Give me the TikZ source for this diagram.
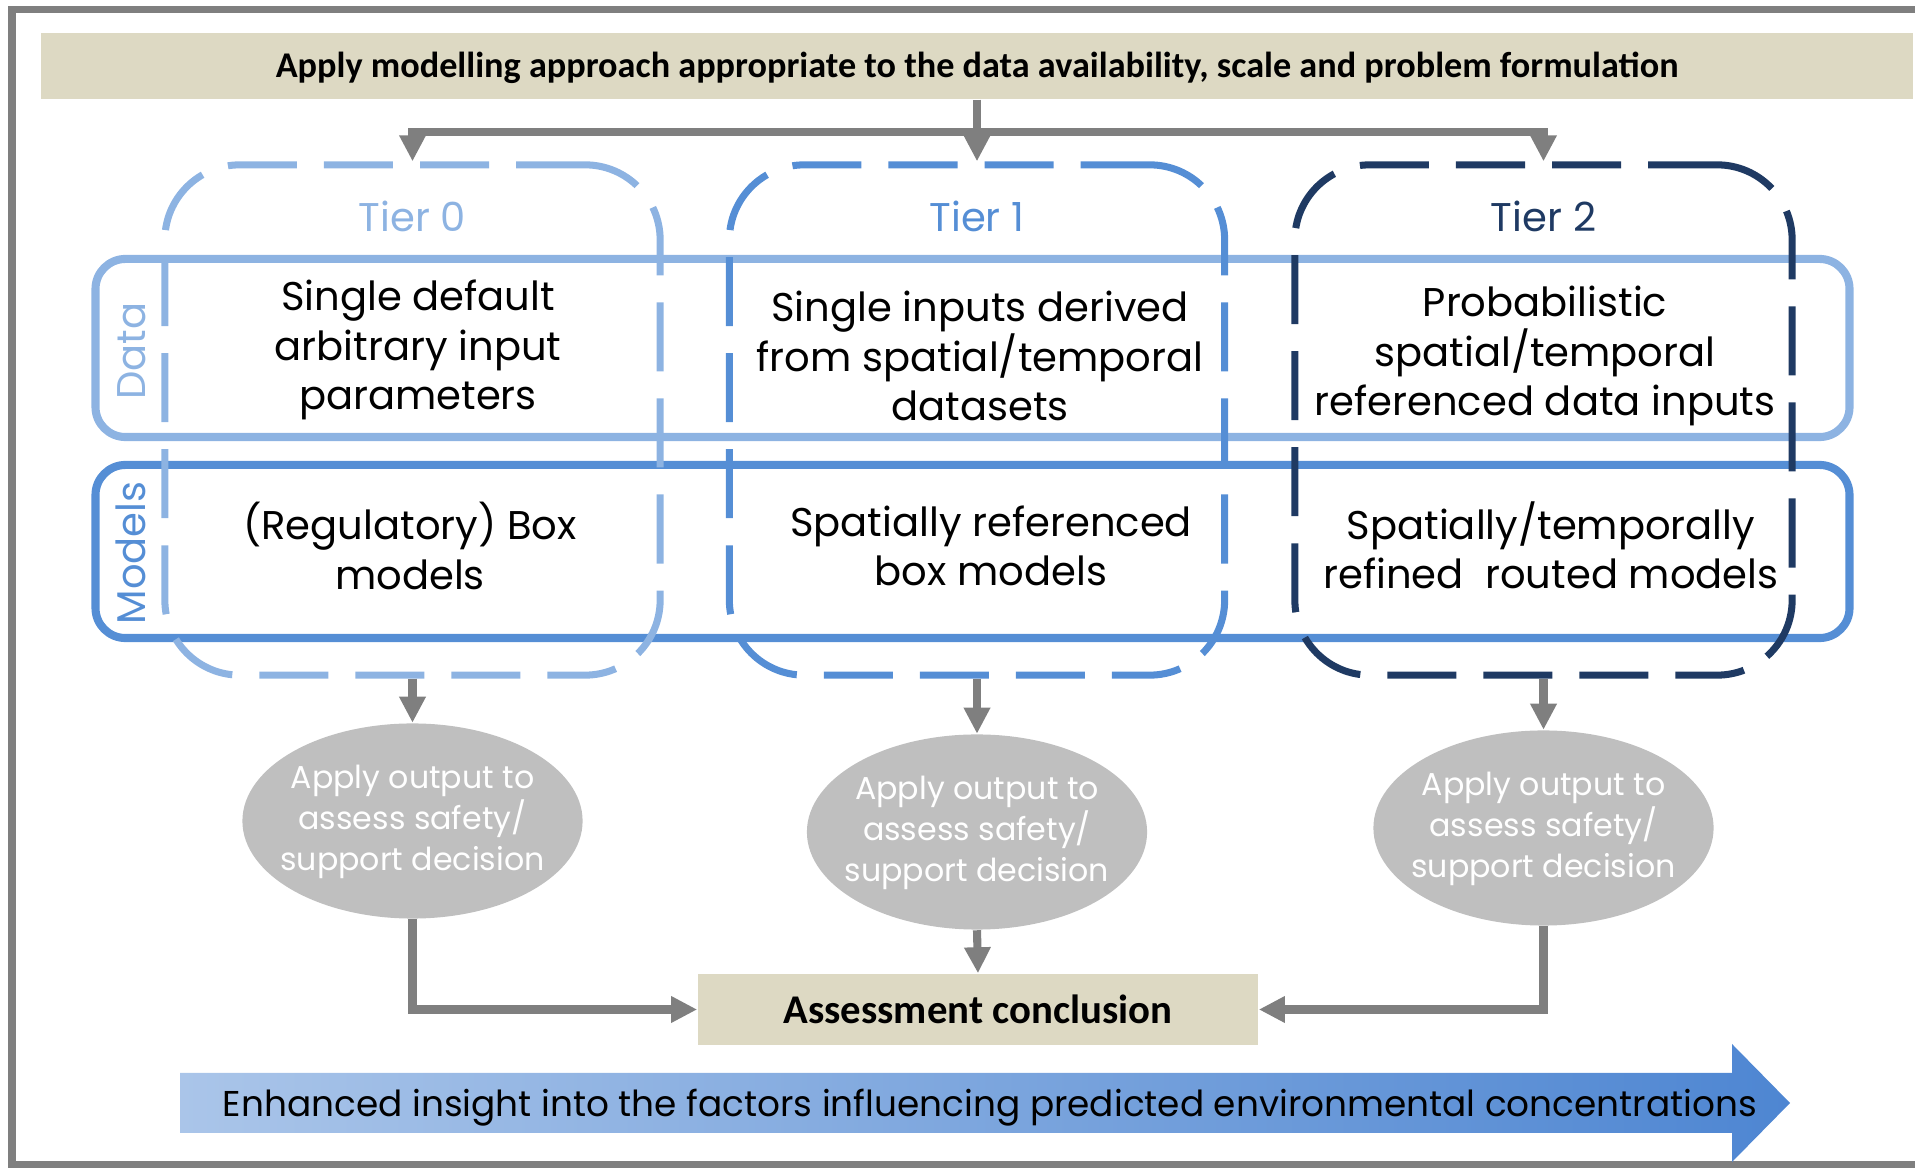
\documentclass[tikz,border=0pt]{standalone}
\usepackage{fontspec}
\setmainfont{Poppins}
\newfontfamily\headfont{Carlito}
\usepackage{tikz}
\usetikzlibrary{shapes,arrows.meta}
\definecolor{bannertan}{HTML}{DDD9C3}
\definecolor{linegray}{HTML}{7F7F7F}
\definecolor{blobgray}{HTML}{BFBFBF}
\definecolor{tierlight}{HTML}{8DB3E2}
\definecolor{tiermid}{HTML}{558ED5}
\definecolor{tierdark}{HTML}{1F3A63}
\definecolor{insightlight}{HTML}{AAC5E9}
\definecolor{insightdark}{HTML}{4E86D2}
\begin{document}
\begin{tikzpicture}[x=0.01cm,y=-0.01cm,line join=miter,
  tier/.style={rounded corners=0.75cm,line width=2pt,dash pattern=on 0.69cm off 0.27cm,minimum width=4.95cm,minimum height=5.1cm},
  row/.style={rounded corners=0.3cm,line width=2.3pt,minimum width=17.53cm},
  body/.style={align=center,font=\fontsize{11.4}{14}\selectfont,inner sep=0pt},
  side/.style={rotate=90,font=\fontsize{11.4}{14}\selectfont,inner sep=0pt},
  blob/.style={ellipse,fill=blobgray,minimum width=3.4cm,minimum height=1.95cm,inner sep=0pt},
  blobtext/.style={align=center,text=white,font=\fontsize{9}{11.6}\selectfont,inner sep=0pt},
  tan/.style={fill=bannertan,inner sep=0pt},
  link/.style={draw=linegray,line width=2.3pt},
  flow/.style={link,-{Triangle[width=0.25cm,length=0.26cm]}}]
		\useasboundingbox (0,0) rectangle (1915,1168);
		\draw[linegray,line width=2pt] (1930,9.5) -- (12,9.5) -- (12,1165) -- (1930,1165);
		% banner and the two rows
		\node[tan,minimum width=18.7cm,minimum height=0.66cm] (approach) at (977,66) {};
		\node[anchor=base,inner sep=0pt,font=\headfont\bfseries\fontsize{10.3}{12}\selectfont] (approachtext) at (977,78) {Apply modelling approach appropriate to the data availability, scale and problem formulation};
		\node[row,draw=tierlight,minimum height=1.78cm] (datarow) at (972.5,348) {};
		\node[row,draw=tiermid,minimum height=1.73cm] (modelrow) at (972.5,551.5) {};
		\node[side,text=tierlight] (datalabel) at (132,351) {Data};
		\node[side,text=tiermid] (modellabel) at (131,553) {Models};
		% tiers
		\node[tier,draw=tierlight] (tier0) at (412.5,420) {};
		\node[tier,draw=tiermid] (tier1) at (977,420) {};
		\node[tier,draw=tierdark,minimum width=4.97cm] (tier2) at (1543.5,420) {};
		\node[body,text=tierlight] (tierlab0) at (412.5,216) {Tier 0};
		\node[body,text=tiermid] (tierlab1) at (977,216) {Tier 1};
		\node[body,text=tierdark] (tierlab2) at (1543.5,216) {Tier 2};
		\node[body] (data0) at (418,350) {Single default\\arbitrary input\\parameters};
		\node[body] (data1) at (980,356) {Single inputs derived\\from spatial/temporal\\datasets};
		\node[body] (data2) at (1545,356) {Probabilistic\\spatial/temporal\\referenced data inputs};
		\node[body] (model0) at (410,546) {(Regulatory) Box\\models};
		\node[body] (model1) at (991,546) {Spatially referenced\\box models};
		\node[body] (model2) at (1551,545) {Spatially/temporally\\refined\ \ routed models};
		% outputs
		\node[blob] (out0) at (412.5,821) {};
		\node[blob] (out1) at (977,832) {};
		\node[blob] (out2) at (1543.5,828) {};
		\node[blobtext] (outtext0) at (412.5,822) {Apply output to\\assess safety/\\support decision};
		\node[blobtext] (outtext1) at (977,833) {Apply output to\\assess safety/\\support decision};
		\node[blobtext] (outtext2) at (1543.5,829) {Apply output to\\assess safety/\\support decision};
		\node[tan,minimum width=5.6cm,minimum height=0.71cm] (concl) at (978,1009.5) {};
		\node[anchor=base,inner sep=0pt,font=\headfont\bfseries\fontsize{11.6}{13}\selectfont] (concltext) at (978,1024) {Assessment conclusion};
		% connectors
		\coordinate (split) at (977,132);
		\draw[link] (approach.south) -- (split);
		\draw[flow] (split) -| (tier0.north);
		\draw[flow] (split) -- (tier1.north);
		\draw[flow] (split) -| (tier2.north);
		\draw[flow] (tier0.south) -- (out0.north);
		\draw[flow] (tier1.south) -- (out1.north);
		\draw[flow] (tier2.south) -- (out2.north);
		\draw[flow] (out1.south) -- (concl.north);
		\draw[flow] (out0.south) |- (concl.west);
		\draw[flow] (out2.south) |- (concl.east);
		% insight arrow
		\shade[left color=insightlight,right color=insightdark] (180,1073) -- (1732,1073) -- (1732,1044) -- (1790,1103) -- (1732,1162) -- (1732,1133) -- (180,1133) -- cycle;
		\node[anchor=base,font=\fontsize{10.2}{12}\selectfont,inner sep=0pt] (insight) at (990,1117) {Enhanced insight into the factors influencing predicted environmental concentrations};
\end{tikzpicture}
\end{document}
